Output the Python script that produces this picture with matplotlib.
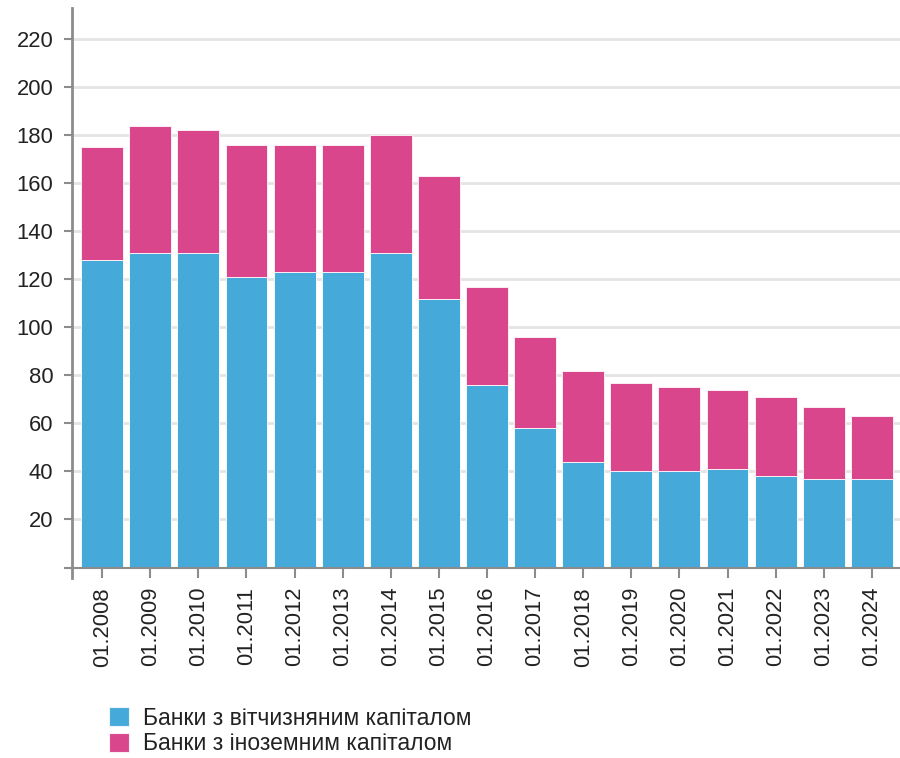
import matplotlib
matplotlib.use("Agg")
import matplotlib.pyplot as plt
from matplotlib.patches import Patch

categories = ["01.2008", "01.2009", "01.2010", "01.2011", "01.2012", "01.2013",
              "01.2014", "01.2015", "01.2016", "01.2017", "01.2018", "01.2019",
              "01.2020", "01.2021", "01.2022", "01.2023", "01.2024"]
domestic = [128, 131, 131, 121, 123, 123, 131, 112, 76, 58, 44, 40, 40, 41, 38, 37, 37]
foreign = [47, 53, 51, 55, 53, 53, 49, 51, 41, 38, 38, 37, 35, 33, 33, 30, 26]
yticks = [0, 20, 40, 60, 80, 100, 120, 140, 160, 180, 200, 220]
ytick_labels = ["", "20", "40", "60", "80", "100", "120", "140", "160", "180", "200", "220"]
series_names = ["Банки з вітчизняним капіталом", "Банки з іноземним капіталом"]

BLUE = "#45a9d9"
PINK = "#d9468c"
AXIS = "#8c8c8c"
GRID = "#e4e4e4"
TEXT = "#222222"

plt.rcParams["font.family"] = ["Liberation Sans", "DejaVu Sans"]

fig = plt.figure(figsize=(9.0, 7.58), dpi=100)
ax = fig.add_axes([71.5 / 900, (758 - 567.5) / 758, 1 - 71.5 / 900, 559.5 / 758])

x = list(range(len(categories)))
ax.bar(x, domestic, width=0.87, color=BLUE, edgecolor="#f4f9fc", linewidth=0.7, zorder=3)
ax.bar(x, foreign, bottom=domestic, width=0.87, color=PINK, edgecolor="#fbeef4",
       linewidth=0.7, zorder=3)

ax.set_xlim(-0.638, 16.586)
ax.set_ylim(0, 233)

ax.set_yticks(yticks)
ax.set_yticklabels(ytick_labels)
ax.set_xticks(x)
ax.set_xticklabels(categories, rotation=90, va="top", ha="center")

ax.yaxis.grid(True, color=GRID, linewidth=2, zorder=0)
ax.set_axisbelow(True)

for s in ["top", "right"]:
    ax.spines[s].set_visible(False)
ax.spines["left"].set_color(AXIS)
ax.spines["left"].set_linewidth(2)
ax.spines["left"].set_bounds(-4.2, 233)
ax.spines["bottom"].set_color(AXIS)
ax.spines["bottom"].set_linewidth(1.5)
ax.spines["bottom"].set_zorder(4)

ax.tick_params(axis="y", length=6, width=1.5, color=AXIS, pad=7,
               labelsize=15.8, labelcolor=TEXT)
ax.tick_params(axis="x", length=7, width=1.5, color=AXIS, pad=7,
               labelsize=15.8, labelcolor=TEXT)

handles = [Patch(facecolor=BLUE, edgecolor="#eaf5fb", linewidth=0.8),
           Patch(facecolor=PINK, edgecolor="#fbeef4", linewidth=0.8)]
fig.legend(handles, series_names, loc="upper left",
           bbox_to_anchor=(104 / 900, 1 - 702 / 758),
           frameon=False, fontsize=16.5, handlelength=0.88, handleheight=0.88,
           handletextpad=0.62, labelspacing=0.12, borderpad=0.2,
           borderaxespad=0, labelcolor=TEXT)

fig.savefig("out.png", dpi=100)
